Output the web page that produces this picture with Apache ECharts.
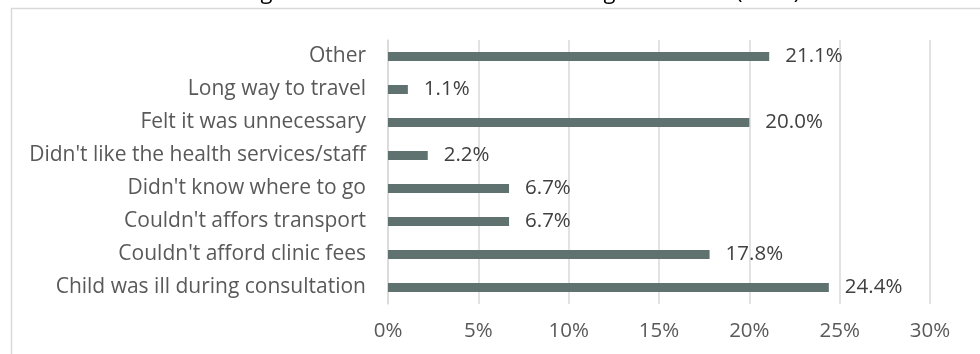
<!DOCTYPE html>
<html>
<head>
<meta charset="utf-8">
<script src="https://cdn.jsdelivr.net/npm/echarts@6/dist/echarts.min.js"></script>
<style>
  html, body { margin: 0; padding: 0; background: #fff; }
  #chart { width: 980px; height: 354px; }
</style>
</head>
<body>
<div id="chart"></div>
<script>
// Reasons listed bottom-to-top as they appear on the category axis
const reasons = [
  "Child was ill during consultation",
  "Couldn't afford clinic fees",
  "Couldn't affors transport",
  "Didn't know where to go",
  "Didn't like the health services/staff",
  "Felt it was unnecessary",
  "Long way to travel",
  "Other"
];
// Share of respondents (%)
const shares = [24.4, 17.8, 6.7, 6.7, 2.2, 20.0, 1.1, 21.1];
const titleText = "Figure 3: Reasons for child not being vaccinated (n=90)";

const font = "'Open Sans', Lato, sans-serif";
const chart = echarts.init(document.getElementById('chart'), null, { renderer: 'canvas' });

chart.setOption({
  animation: false,
  backgroundColor: '#ffffff',
  graphic: [
    {
      type: 'rect',
      left: 9, top: 6,
      shape: { width: 1000, height: 400 },
      style: { fill: 'none', stroke: '#d9d9d9', lineWidth: 1.5 },
      silent: true
    },
    {
      type: 'text',
      x: 522, y: 4,
      style: {
        text: titleText,
        fill: '#000000',
        font: '22px ' + font,
        textAlign: 'center',
        textVerticalAlign: 'bottom'
      },
      silent: true
    }
  ],
  grid: { left: 388, top: 40, width: 542, height: 264, containLabel: false },
  xAxis: {
    type: 'value',
    min: 0, max: 30, interval: 5,
    axisLine: { show: false },
    axisTick: { show: false },
    splitLine: { show: true, lineStyle: { color: '#d9d9d9', width: 1.5 } },
    axisLabel: {
      formatter: v => v + '%',
      color: '#595959',
      fontFamily: font,
      fontSize: 20.5,
      margin: 17
    }
  },
  yAxis: {
    type: 'category',
    data: reasons,
    axisLine: { show: true, lineStyle: { color: '#d9d9d9', width: 1.5 } },
    axisTick: { show: false },
    axisLabel: {
      color: '#595959',
      fontFamily: font,
      fontSize: 21,
      margin: 22
    }
  },
  series: [{
    type: 'bar',
    data: shares,
    barWidth: 9,
    itemStyle: { color: '#5f7270' },
    label: {
      show: true,
      position: 'right',
      distance: 16,
      formatter: p => p.value.toFixed(1) + '%',
      color: '#404040',
      fontFamily: font,
      fontSize: 20.5
    }
  }]
});
</script>
</body>
</html>
